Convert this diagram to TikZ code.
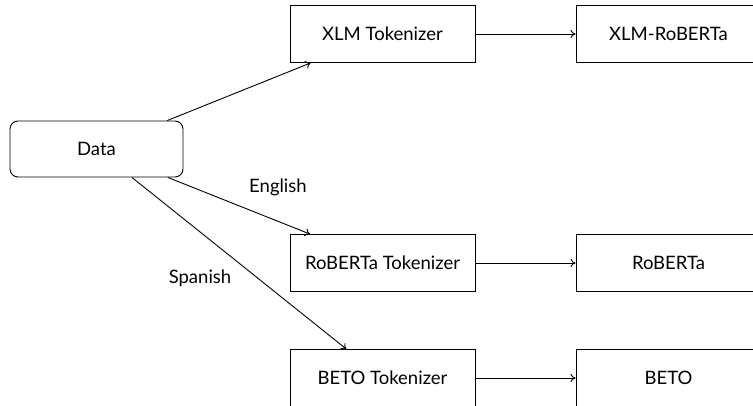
\documentclass[tikz,border=0pt]{standalone}
\usepackage{fontspec}
\setmainfont{Lato}
\usetikzlibrary{arrows.meta}
\begin{document}
\begin{tikzpicture}[x=1pt,y=-1pt,
  box/.style={draw, line width=0.9pt, minimum width=185pt, minimum height=57pt, inner sep=0pt, font=\fontsize{18.5}{22}\selectfont},
  databox/.style={box, rounded corners=8pt, minimum width=173pt, minimum height=56pt},
  conn/.style={line width=0.9pt, -{To[length=5pt,width=8pt]}},
  lbl/.style={font=\fontsize{18.5}{22}\selectfont}]
\clip (0,0) rectangle (753,405);
\useasboundingbox (0,0) rectangle (753,405);
\node[databox] (data) at (96.5,149) {Data};
\node[box] (xtok) at (382.5,34) {XLM Tokenizer};
\node[box] (xlm) at (668.5,34) {XLM-RoBERTa};
\node[box] (rtok) at (382.5,263) {RoBERTa Tokenizer};
\node[box] (rob) at (668.5,263) {RoBERTa};
\node[box] (btok) at (382.5,378) {BETO Tokenizer};
\node[box] (beto) at (668.5,378) {BETO};
\draw[conn] (data) -- (xtok);
\draw[conn] (data) -- (rtok);
\draw[conn] (data) -- (btok);
\draw[conn] (xtok) -- (xlm);
\draw[conn] (rtok) -- (rob);
\draw[conn] (btok) -- (beto);
\node[lbl] (en) at (278,187) {English};
\node[lbl] (es) at (200,278) {Spanish};
\end{tikzpicture}
\end{document}
